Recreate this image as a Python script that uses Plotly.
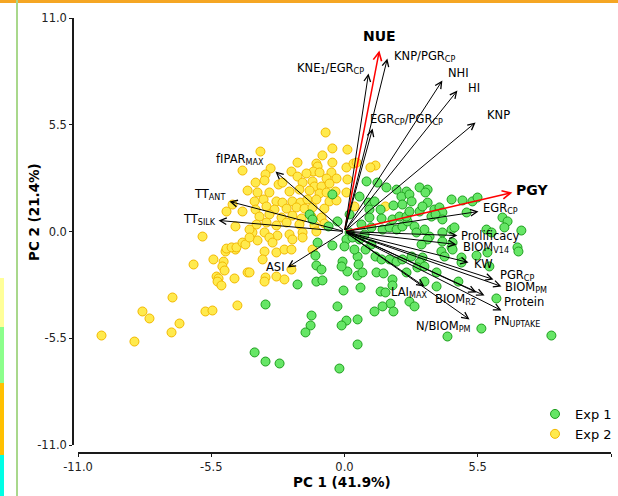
import plotly.graph_objects as go

# ---------------- DATA ----------------
# Exp 1 scores (green)
exp1_pc1 = [
    -0.50, 0.21, 0.91, 1.36, 1.73, 0.99, 1.24, 1.03, 1.49, 1.03, 1.53, 0.62, 2.15, 2.56, 2.35, 2.02, 2.39,
    -0.29, -0.66, -1.44, -1.32, 0.21, 0.08, 0.33, 0.00, 0.62, 1.57, 1.86, 2.15, 2.39, 2.60, 1.98, 2.27, 2.56,
    -1.20, -1.16, -1.94, -1.16, -0.91, -3.26, -0.08, 0.12, 0.54, 0.58, 0.54, -0.04, 0.66, -0.29, 0.08, -0.12,
    0.54, -1.36, -1.40, -1.61, -3.71, -3.26, -2.68, -0.21, 0.54, 1.32, 1.61, 1.49, 1.69, 1.98, 1.98, 1.90,
    1.57, 1.24, 2.02, 1.28, 1.53, 1.86, 2.15, 2.39, 2.56,
    3.10, 3.43, 3.34, 2.68, 2.77, 4.42, 4.87, 5.28, 5.49, 3.43, 3.71, 3.92, 4.04, 3.10, 2.68, 3.59, 3.76,
    4.04, 5.04, 6.52, 6.73, 6.60, 7.30, 5.86, 6.07, 2.89, 3.30, 2.97, 3.51, 4.04, 4.42, 4.54, 3.43, 4.04,
    4.46, 3.18, 4.42, 7.14,
    4.00, 4.46, 4.13, 3.22, 2.77, 3.10, 3.01, 3.30, 4.83, 4.83, 5.45, 5.90, 5.98, 7.18, 3.80, 3.30, 3.80,
    4.70, 2.68, 2.89, 6.27, 5.65, 4.25, 8.54,
    0.83, 1.11, 0.87, 0.41, 1.11, 0.70, -1.11, -0.50, -0.95, -0.12, 0.74, 3.22,
]
exp1_pc2 = [
    1.91, 0.88, 2.58, 2.52, 2.27, 1.49, 1.55, 1.13, 1.13, 0.72, 0.67, 1.80, 2.16, 2.06, 1.80, 1.34, 1.39,
    0.52, 0.26, 0.88, 0.62, -0.05, -0.41, -0.31, -0.77, -0.41, 0.10, 0.21, 0.10, 0.26, 0.52, 0.62, 0.77, 0.77,
    -1.24, -1.75, -2.73, -2.58, -2.52, -3.76, -1.55, -2.06, -1.29, -1.70, -2.27, -3.04, -2.89, -3.86, -4.59, -4.84,
    -4.53, -4.33, -4.84, -5.20, -6.23, -6.70, -6.80, -7.06, -5.82, -2.11, -2.16, -3.09, -3.14, -2.47, -2.78, -3.71,
    -3.86, -4.12, -4.12, -1.29, -1.44, -1.44, -1.55, -1.44, -2.11,
    2.27, 2.16, 2.01, 1.91, 1.55, 1.65, 1.60, 1.55, 1.75, 1.49, 1.13, 1.24, 0.98, 1.03, 1.03, 0.77, 0.88,
    0.62, 0.98, 0.72, 0.52, 0.21, 0.05, 0.10, -0.05, 0.26, 0.10, -0.05, -0.26, -0.05, 0.10, 0.21, -0.41, -0.52,
    -0.57, -0.67, -0.82, -0.82,
    -1.03, -0.93, -1.29, -1.34, -1.29, -1.60, -1.85, -1.80, -1.34, -1.60, -1.24, -1.08, -1.80, -1.03, -2.11, -2.58, -2.83,
    -2.58, -3.61, -3.86, -3.45, -5.00, -5.41, -5.36,
    -0.15, -0.67, -0.93, -0.93, 0.21, 0.36, -0.57, -0.72, -1.96, -1.80, -2.11, 1.29,
]

# Exp 2 scores (yellow)
exp2_pc1 = [
    -6.23, -5.41, -4.91, -4.50, -4.99, -5.04, -4.95, -5.28, -5.20, -5.24, -5.08, -4.54, -4.00, -7.10, -8.34,
    -8.05, -6.81, -7.14, -5.74, -5.45, -4.42, -10.03, -8.67,
    -4.21, -4.00, -4.62, -4.87, -4.21, -4.50, -5.86, -4.87, -4.66, -4.46, -4.21, -4.09,
    -0.78, -3.47, -0.50, 0.12, -0.91, -1.94, -1.16, -1.11, -0.50, 0.08, 0.37, -3.05, -3.26, -2.19, -1.28, -1.57,
    -1.03, -0.54, -1.94, -0.74, -0.33, -3.67, -3.30, -2.72, -2.56, -1.73, -1.32, -1.24, -0.95, -0.62, 0.12, 1.28,
    1.07, 0.50, -3.59, -3.10, -2.27, -1.86, -1.44, -1.03, -0.74, -0.37, 0.08, -3.71, -3.34, -2.81, -2.56, -2.15,
    -1.82, -1.53, -1.16, -0.62, -0.33, -3.67, -3.22, -2.89, -2.39, -1.98, -1.65, -1.32, -0.83, 0.41, -3.51, -3.10,
    -2.60, -2.15, -1.77, -1.36, -0.95, -3.63, -3.22, -2.81, -2.39, -1.86, -1.24, -0.83, -3.80, -3.30, -2.77, -2.27,
    -1.73, -1.16, -3.59, -3.10, -2.97, -2.15, -1.73, 1.69,
    -3.30, -2.81, -2.48, -2.19, -3.38, -3.92, -3.26, -3.30, -2.81, -2.48, -2.19, -1.32, -3.92, -3.92,
]
exp2_pc2 = [
    -1.70, -1.44, -1.03, -0.93, -1.55, -1.80, -2.01, -2.32, -2.42, -2.58, -2.78, -2.42, -2.11, -3.40, -4.12,
    -4.48, -4.74, -5.20, -4.12, -4.07, -3.81, -5.36, -5.67,
    3.14, 2.11, 1.39, 1.03, 1.03, 0.26, -0.26, -0.88, -0.82, -0.82, -0.57, -0.67,
    5.10, 4.12, 4.28, 4.22, 3.92, 3.55, 3.50, 3.35, 3.55, 3.30, 3.50, 3.25, 2.94, 3.09, 3.09, 2.99,
    3.04, 3.04, 2.83, 2.73, 2.73, 2.52, 2.63, 2.42, 2.52, 2.52, 2.58, 2.32, 2.32, 2.47, 2.68, 3.40,
    3.30, 3.55, 2.01, 2.01, 2.06, 2.16, 2.11, 1.96, 2.01, 2.06, 2.01, 1.55, 1.65, 1.55, 1.49, 1.55,
    1.49, 1.65, 1.65, 1.55, 1.60, 1.13, 1.29, 1.13, 1.18, 1.24, 1.18, 1.24, 1.18, 1.29, 0.77, 0.88,
    0.72, 0.82, 0.67, 0.77, 0.72, 0.36, 0.46, 0.31, 0.46, 0.36, 0.31, 0.41, -0.05, -0.05, -0.21, -0.15,
    -0.05, 0.00, -0.46, -0.31, -0.57, -0.41, -0.31, 1.29,
    -1.03, -1.08, -0.93, -0.93, -1.44, -2.11, -2.37, -2.58, -2.32, -2.47, -1.96, -0.93, 0.10, -0.31,
]

# Variable loadings (arrow tips)
var_names = ["NUE", "KNP/PGR_CP", "KNE1/EGR_CP", "NHI", "HI", "KNP", "EGR_CP/PGR_CP",
             "fIPAR_MAX", "TT_ANT", "TT_SILK", "ASI", "PGY", "EGR_CP", "Prolificacy",
             "BIOM_V14", "KW", "PGR_CP", "BIOM_PM", "Protein", "BIOM_R2", "LAI_MAX",
             "PN_UPTAKE", "N/BIOM_PM"]
var_pc1 = [1.44, 1.77, 0.99, 4.04, 4.66, 5.41, 1.16,
           -2.85, -4.75, -5.20, -2.35, 6.93, 5.53, 4.66,
           4.62, 5.12, 6.15, 6.48, 5.78, 5.45, 3.30,
           6.48, 5.16]
var_pc2 = [9.33, 8.91, 8.14, 7.78, 7.26, 5.62, 5.31,
           3.09, 1.55, 0.57, -1.85, 2.01, 1.03, -0.21,
           -0.67, -1.60, -2.47, -2.83, -3.30, -3.14, -2.83,
           -4.07, -4.53]
var_labels = ["<b>NUE</b>", "KNP/PGR<sub>CP</sub>", "KNE<sub>1</sub>/EGR<sub>CP</sub>", "NHI", "HI", "KNP",
              "EGR<sub>CP</sub>/PGR<sub>CP</sub>", "fIPAR<sub>MAX</sub>", "TT<sub>ANT</sub>", "TT<sub>SILK</sub>",
              "ASI", "<b>PGY</b>", "EGR<sub>CP</sub>", "Prolificacy", "BIOM<sub>V14</sub>", "KW",
              "PGR<sub>CP</sub>", "BIOM<sub>PM</sub>", "Protein", "BIOM<sub>R2</sub>", "LAI<sub>MAX</sub>",
              "PN<sub>UPTAKE</sub>", "N/BIOM<sub>PM</sub>"]
highlight = ["NUE", "PGY"]

tick_vals = [-11.0, -5.5, 0.0, 5.5, 11.0]
tick_text = ["-11.0", "-5.5", "0.0", "5.5", "11.0"]
x_title = "PC 1 (41.9%)"
y_title = "PC 2 (21.4%)"

# ---------------- STYLE ----------------
FONT = "DejaVu Sans"
W, H = 618, 496
PL, PR, PT, PB = 73, 611, 18, 453   # pixel bounds of the axis lines

# label placement: (xanchor, xshift px, yshift px)
label_pos = {
    "NUE": ("center", 0, 14), "KNP/PGR_CP": ("left", 5, 2), "KNE1/EGR_CP": ("right", -2, 5),
    "NHI": ("left", 4, 8), "HI": ("left", 9, 3), "KNP": ("left", 9, 7), "EGR_CP/PGR_CP": ("left", -5, 9),
    "fIPAR_MAX": ("right", -9, 12), "TT_ANT": ("right", -2, 7), "TT_SILK": ("right", -1, 1),
    "ASI": ("right", -1, 0), "PGY": ("left", 2, 2), "EGR_CP": ("left", 3, 3), "Prolificacy": ("left", 2, 0),
    "BIOM_V14": ("left", 5, -3), "KW": ("left", 3, -1), "PGR_CP": ("left", 4, 4), "BIOM_PM": ("left", 2, -1),
    "Protein": ("left", 17, -6), "BIOM_R2": ("right", 1, -7), "LAI_MAX": ("right", 5, -6),
    "PN_UPTAKE": ("left", -9, -11), "N/BIOM_PM": ("right", 3, -7),
}


def px_x(px):
    return (px - PL) / (PR - PL)


def px_y(py):
    return (PB - py) / (PB - PT)


fig = go.Figure()

fig.add_trace(go.Scatter(
    x=exp2_pc1, y=exp2_pc2, mode="markers", name="Exp 2", legendrank=2,
    marker=dict(size=9, color="#FFEA4D", line=dict(color="#F2B800", width=1)),
))
fig.add_trace(go.Scatter(
    x=exp1_pc1, y=exp1_pc2, mode="markers", name="Exp 1", legendrank=1,
    marker=dict(size=9, color="#66E666", line=dict(color="#1E9E1E", width=1)),
))

annotations = []
for name, vx, vy, lab in zip(var_names, var_pc1, var_pc2, var_labels):
    red = name in highlight
    annotations.append(dict(
        x=vx, y=vy, ax=0, ay=0, xref="x", yref="y", axref="x", ayref="y",
        text="", showarrow=True, arrowhead=5, arrowsize=1.3 if not red else 1.1,
        arrowwidth=1 if not red else 1.5, arrowcolor="#FF0000" if red else "#000000",
        standoff=0,
    ))
for name, vx, vy, lab in zip(var_names, var_pc1, var_pc2, var_labels):
    red = name in highlight
    xa, xs, ys = label_pos[name]
    annotations.append(dict(
        x=vx, y=vy, xref="x", yref="y", text=lab, showarrow=False,
        xanchor=xa, yanchor="middle", xshift=xs, yshift=ys,
        font=dict(family=FONT, size=14 if red else 11.5, color="#000000"),
    ))

# axis titles
annotations.append(dict(x=px_x(342), y=px_y(482), xref="paper", yref="paper", text="<b>" + x_title + "</b>",
                        showarrow=False, xanchor="center", yanchor="middle",
                        font=dict(family=FONT, size=13.5, color="#000000")))
annotations.append(dict(x=px_x(34), y=px_y(212), xref="paper", yref="paper", text="<b>" + y_title + "</b>",
                        showarrow=False, xanchor="center", yanchor="middle", textangle=-90,
                        font=dict(family=FONT, size=13.5, color="#000000")))

# page decorations around the chart (borders of the original screenshot)
shapes = []


def rect(x0, y0, x1, y1, color):
    shapes.append(dict(type="rect", xref="paper", yref="paper",
                       x0=px_x(x0), x1=px_x(x1), y0=px_y(y1), y1=px_y(y0),
                       fillcolor=color, line=dict(width=0), layer="above"))


rect(0, 0, 618, 3, "#F5A623")
rect(16, 0, 18, 496, "#A9D88C")
rect(0, 278, 4, 327, "#FFFF99")
rect(0, 327, 4, 383, "#8CFF8C")
rect(0, 383, 4, 455, "#FFC000")
rect(0, 455, 4, 496, "#00FFE5")

axis_common = dict(
    range=[-11, 11], tickvals=tick_vals, ticktext=tick_text, showgrid=False, zeroline=False,
    showline=True, linecolor="#1a1a1a", linewidth=1.5, ticks="outside", ticklen=3,
    tickcolor="#1a1a1a", tickwidth=1, tickfont=dict(family=FONT, size=11.5, color="#222222"),
    anchor="free", position=0, automargin=False,
)

fig.update_layout(
    width=W, height=H,
    margin=dict(l=PL, r=W - PR, t=PT, b=H - PB, pad=0, autoexpand=False),
    paper_bgcolor="white", plot_bgcolor="white",
    xaxis=dict(domain=[px_x(78), 1.0], **axis_common),
    yaxis=dict(domain=[px_y(445), 1.0], **axis_common),
    showlegend=True,
    legend=dict(x=px_x(535), y=px_y(399), xanchor="left", yanchor="top",
                bgcolor="rgba(0,0,0,0)", borderwidth=0,
                font=dict(family=FONT, size=13, color="#000000"), itemwidth=30),
    annotations=annotations,
    shapes=shapes,
)

fig.write_html("out.html", config={"displayModeBar": False},
               post_script="document.body.style.margin='0px';document.body.style.overflow='hidden';")
